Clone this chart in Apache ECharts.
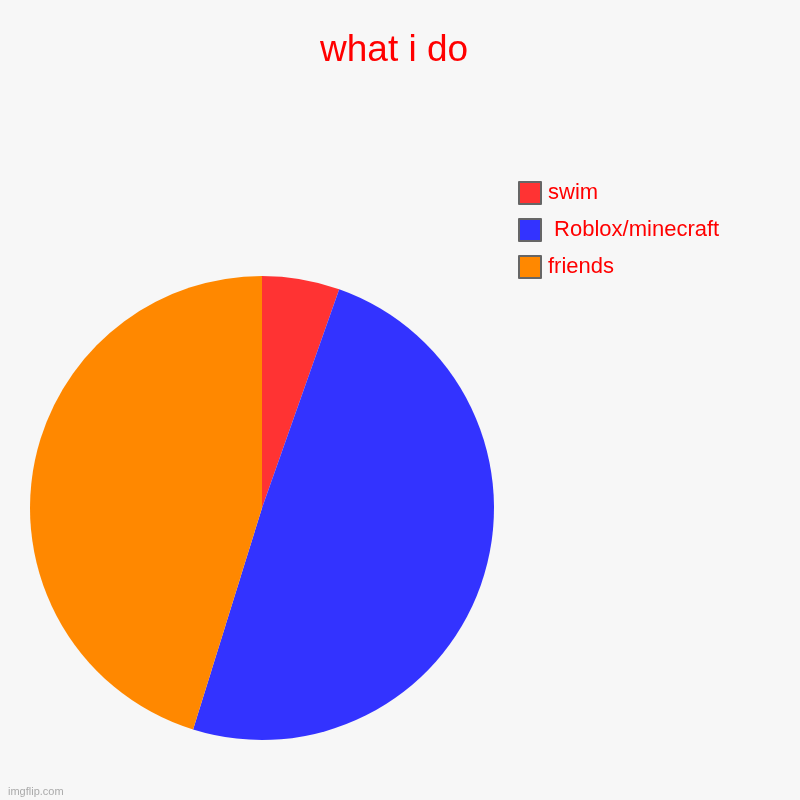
<!DOCTYPE html>
<html>
<head>
<meta charset="utf-8">
<script src="https://cdn.jsdelivr.net/npm/echarts@6/dist/echarts.min.js"></script>
<style>html,body{margin:0;padding:0;background:#f7f7f7;}#c{width:800px;height:800px;}</style>
</head>
<body>
<div id="c"></div>
<script>
const categories = ['swim', ' Roblox/minecraft', 'friends'];
const values = [5.4, 49.4, 45.2];
const colors = ['#ff3333', '#3333ff', '#ff8800'];

const chart = echarts.init(document.getElementById('c'), null, {renderer: 'canvas'});
chart.setOption({
  backgroundColor: '#f7f7f7',
  animation: false,
  title: {
    text: 'what i do',
    left: 320,
    top: 32,
    padding: 0,
    textStyle: {color: '#ff0000', fontSize: 37, fontWeight: 'normal', fontFamily: 'Liberation Sans, Arial, sans-serif'}
  },
  graphic: [{
    type: 'text', left: 8, top: 786,
    style: {text: 'imgflip.com', fill: '#aaaaaa', font: '11px Liberation Sans, Arial, sans-serif'}
  }],
  legend: {
    orient: 'vertical',
    left: 518,
    top: 181,
    padding: 0,
    itemWidth: 22,
    itemHeight: 22,
    itemGap: 13,
    icon: 'rect',
    itemStyle: {borderColor: '#666666', borderWidth: 2},
    textStyle: {color: '#ff0000', fontSize: 22, fontFamily: 'Liberation Sans, Arial, sans-serif', padding: [0, 0, 0, 2]},
    data: categories
  },
  series: [{
    type: 'pie',
    center: [262, 508],
    radius: 232,
    startAngle: 90,
    clockwise: true,
    label: {show: false},
    labelLine: {show: false},
    emphasis: {disabled: true},
    data: categories.map((c, i) => ({name: c, value: values[i], itemStyle: {color: colors[i]}}))
  }]
});
</script>
</body>
</html>
